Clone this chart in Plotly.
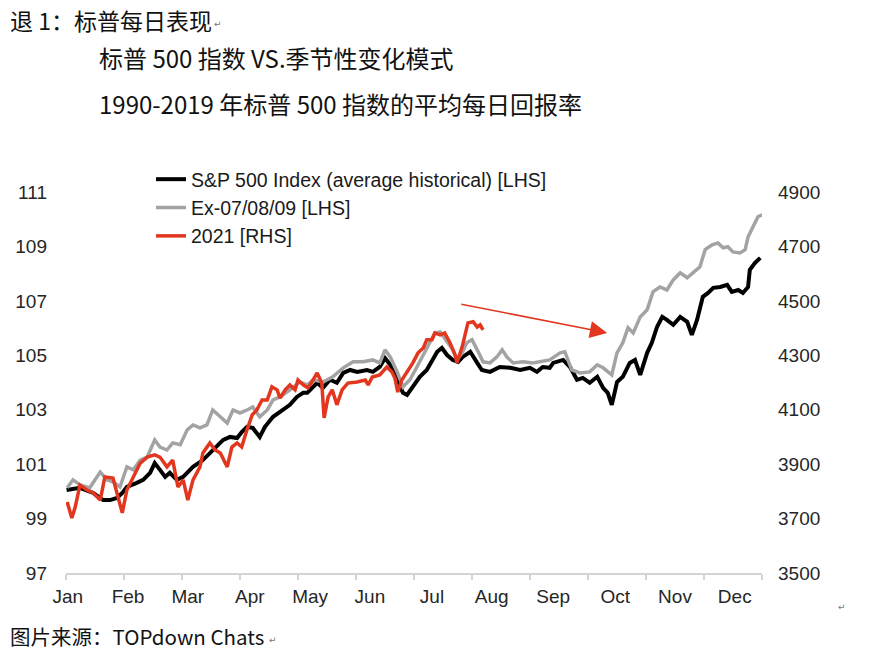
import plotly.graph_objects as go

# ---------------- data (x = months since Jan 1, y = index level) ----------------
months = ["Jan", "Feb", "Mar", "Apr", "May", "Jun", "Jul", "Aug", "Sep", "Oct", "Nov", "Dec"]
month_bounds = list(range(13))
month_label_pos = [0.03, 1.07, 2.10, 3.17, 4.21, 5.24, 6.31, 7.34, 8.40, 9.47, 10.50, 11.53]

lhs_ticks = [97, 99, 101, 103, 105, 107, 109, 111]
rhs_ticks = [3500, 3700, 3900, 4100, 4300, 4500, 4700, 4900]

avg_x = [0.01, 0.24, 0.47, 0.64, 0.76, 0.88, 0.97, 1.05, 1.22, 1.33,
         1.45, 1.53, 1.62, 1.71, 1.79, 1.91, 2.02, 2.19, 2.36, 2.48,
         2.60, 2.71, 2.83, 2.95, 3.03, 3.12, 3.22, 3.34, 3.43, 3.57,
         3.69, 3.86, 3.98, 4.09,
         4.16, 4.33, 4.43, 4.55, 4.67, 4.78, 4.90, 5.02, 5.19, 5.29,
         5.41, 5.50, 5.59, 5.71, 5.81, 5.88, 5.98, 6.10, 6.22, 6.31,
         6.40, 6.48, 6.57, 6.67, 6.76, 6.84, 6.97, 7.09, 7.17, 7.31,
         7.48, 7.66, 7.83, 8.00, 8.12, 8.22, 8.34,
         8.40, 8.57, 8.69, 8.81, 8.91, 9.03, 9.16, 9.26, 9.34, 9.41,
         9.47, 9.50, 9.60, 9.72, 9.81, 9.90, 10.02, 10.10, 10.19, 10.28,
         10.36, 10.47, 10.59, 10.71, 10.79, 10.88, 10.98, 11.07, 11.16, 11.28,
         11.40, 11.48, 11.59, 11.67, 11.76, 11.79, 11.88, 11.97]
avg_y = [100.05, 100.13, 99.94, 99.68, 99.68, 99.76, 99.94, 100.16, 100.31, 100.42,
         100.68, 101.04, 100.79, 100.53, 100.68, 100.42, 100.53, 100.90, 101.15, 101.41,
         101.63, 101.89, 102.00, 101.96, 102.18, 102.37, 102.33, 102.00, 102.37, 102.74,
         102.92, 103.18, 103.47, 103.62,
         103.62, 103.99, 103.80, 104.10, 103.99, 104.35, 104.46, 104.39, 104.46, 104.39,
         104.57, 104.90, 104.65, 104.10, 103.62, 103.54, 103.84, 104.21, 104.46, 104.83,
         105.13, 105.27, 105.01, 104.83, 104.76, 104.94, 105.13, 104.72, 104.46, 104.39,
         104.57, 104.54, 104.46, 104.54, 104.39, 104.57, 104.54,
         104.72, 104.83, 104.57, 104.10, 104.17, 103.99, 104.21, 103.80, 103.62, 103.18,
         103.73, 104.02, 104.21, 104.72, 104.83, 104.28, 105.09, 105.46, 106.04, 106.41,
         106.30, 106.12, 106.41, 106.23, 105.75, 106.30, 107.15, 107.29, 107.48, 107.51,
         107.59, 107.33, 107.40, 107.29, 107.51, 108.14, 108.40, 108.58]

ex_x = [0.02, 0.12, 0.24, 0.41, 0.59, 0.71, 0.81, 0.93, 1.05, 1.16,
        1.28, 1.40, 1.53, 1.62, 1.74, 1.84, 1.97, 2.09, 2.19, 2.31,
        2.43, 2.53, 2.66, 2.78, 2.88, 3.00, 3.12, 3.22, 3.34, 3.47,
        3.57, 3.69, 3.86, 4.03, 4.16,
        4.26, 4.43, 4.60, 4.78, 4.95, 5.12, 5.29, 5.41, 5.50, 5.59,
        5.71, 5.81, 5.93, 6.05, 6.16, 6.28, 6.36, 6.45, 6.57, 6.67,
        6.74, 6.83, 6.91, 7.00, 7.09, 7.19, 7.31, 7.43, 7.52, 7.60,
        7.71, 7.88, 8.05, 8.17, 8.29,
        8.34, 8.52, 8.60, 8.72, 8.86, 9.03, 9.16, 9.26, 9.41, 9.50,
        9.60, 9.69, 9.78, 9.90, 10.02, 10.12, 10.24, 10.36, 10.47, 10.59,
        10.71, 10.81, 10.93, 11.02, 11.14, 11.24, 11.33, 11.41, 11.50, 11.62,
        11.71, 11.76, 11.84, 11.93, 12.00]
ex_y = [100.13, 100.42, 100.24, 100.13, 100.71, 100.42, 100.35, 100.16, 100.90, 100.79,
        101.15, 101.26, 101.89, 101.63, 101.52, 101.78, 101.71, 102.26, 102.44, 102.33,
        102.44, 102.99, 102.74, 102.51, 102.99, 102.88, 102.99, 103.10, 102.74, 102.99,
        103.36, 103.47, 103.73, 104.02, 103.91,
        104.10, 104.02, 104.21, 104.54, 104.76, 104.76, 104.83, 104.72, 105.20, 104.94,
        104.39, 103.84, 104.10, 104.57, 105.01, 105.46, 105.82, 105.86, 105.49, 105.20,
        104.83, 105.09, 105.46, 105.57, 105.20, 104.76, 104.72, 104.94, 105.20, 104.94,
        104.72, 104.76, 104.72, 104.76, 104.83,
        104.83, 105.09, 105.13, 104.46, 104.35, 104.39, 104.65, 104.54, 104.28, 105.09,
        105.46, 106.01, 105.82, 106.41, 106.67, 107.33, 107.51, 107.40, 107.77, 108.03,
        107.85, 108.03, 108.25, 108.88, 109.06, 109.13, 108.95, 108.99, 108.80, 108.76,
        108.88, 109.35, 109.72, 110.09, 110.16]

y2021_x = [0.02, 0.10, 0.16, 0.24, 0.36, 0.47, 0.59, 0.67, 0.81, 0.90,
           0.97, 1.05, 1.16, 1.28, 1.40, 1.53, 1.62, 1.74, 1.84, 1.93,
           2.02, 2.10, 2.19, 2.31, 2.36, 2.48, 2.57, 2.66, 2.78, 2.86,
           2.95, 3.03, 3.12, 3.21, 3.29, 3.38, 3.47, 3.55, 3.64, 3.69,
           3.78, 3.86, 3.95, 4.00, 4.09, 4.17,
           4.24, 4.33, 4.41, 4.45, 4.52, 4.59, 4.67, 4.76, 4.86, 5.02,
           5.16, 5.21, 5.28, 5.41, 5.53, 5.62, 5.67, 5.72, 5.79, 5.88,
           5.98, 6.07, 6.16, 6.22, 6.31, 6.36, 6.45, 6.53, 6.62, 6.71,
           6.74, 6.83, 6.88, 6.93, 7.02, 7.09, 7.14, 7.19]
y2021_y = [3761, 3702, 3743, 3823, 3805, 3794, 3768, 3853, 3849, 3779,
           3721, 3805, 3853, 3904, 3926, 3934, 3926, 3890, 3915, 3816,
           3842, 3768, 3842, 3890, 3941, 3978, 3952, 3941, 3890, 3963,
           3978, 3963, 4026, 4081, 4099, 4136, 4136, 4184, 4173, 4143,
           4173, 4191, 4173, 4209, 4191, 4180,
           4202, 4235, 4198, 4070, 4147, 4173, 4118, 4173, 4198, 4202,
           4209, 4191, 4220, 4228, 4257, 4239, 4217, 4165, 4209, 4239,
           4272, 4309, 4327, 4357, 4357, 4382, 4375, 4382, 4346, 4301,
           4272, 4331, 4382, 4419, 4423, 4404, 4412, 4393]

arrow_from = (6.79, 106.89)   # (month, LHS level)
arrow_to = (9.33, 105.82)

# ---------------- figure ----------------
W, H = 872, 654
ML, MR, MT, MB = 66, 110, 192, 81
PW, PH = W - ML - MR, H - MT - MB


def px(xp):
    return (xp - ML) / PW


def py(yp):
    return (H - MB - yp) / PH


TICK_FONT = dict(family="Liberation Sans, Arial, sans-serif", size=19, color="#262626")
CJK = "Noto Sans CJK SC"
RED = "#e2361e"

fig = go.Figure()
fig.add_trace(go.Scatter(x=avg_x, y=avg_y, mode="lines", name="S&P 500 Index (average historical) [LHS]",
                         line=dict(color="#000000", width=4)))
fig.add_trace(go.Scatter(x=ex_x, y=ex_y, mode="lines", name="Ex-07/08/09 [LHS]",
                         line=dict(color="#a3a3a3", width=3.5)))
fig.add_trace(go.Scatter(x=y2021_x, y=y2021_y, mode="lines", name="2021 [RHS]", yaxis="y2",
                         line=dict(color=RED, width=3.5)))

fig.update_layout(
    width=W, height=H,
    margin=dict(l=ML, r=MR, t=MT, b=MB),
    paper_bgcolor="white", plot_bgcolor="white",
    showlegend=True,
    legend=dict(x=px(151), y=py(160), xanchor="left", yanchor="top",
                font=dict(family="Liberation Sans, Arial, sans-serif", size=19.5, color="#1a1a1a"),
                bgcolor="rgba(0,0,0,0)", tracegroupgap=0, itemwidth=30),
    xaxis=dict(range=[0, 12], showgrid=False, zeroline=False,
               showline=True, linecolor="#d4d4d4", linewidth=1.5,
               tickmode="array", tickvals=month_label_pos, ticktext=months,
               ticks="", tickfont=TICK_FONT, ticklabelstandoff=5,
               minor=dict(tickmode="array", tickvals=month_bounds, ticks="outside",
                          ticklen=5, tickcolor="#d4d4d4", tickwidth=1.5, showgrid=False)),
    yaxis=dict(range=[97, 111], tickmode="array", tickvals=lhs_ticks, showgrid=False,
               zeroline=False, showline=False, ticks="", tickfont=TICK_FONT,
               ticklabelstandoff=18),
    yaxis2=dict(range=[3500, 4900], tickmode="array", tickvals=rhs_ticks, overlaying="y",
                side="right", showgrid=False, zeroline=False, showline=False, ticks="",
                tickfont=TICK_FONT, ticklabelstandoff=15),
)

# red arrow annotation
fig.add_annotation(x=arrow_to[0], y=arrow_to[1], ax=arrow_from[0], ay=arrow_from[1],
                   xref="x", yref="y", axref="x", ayref="y", text="", showarrow=True,
                   arrowhead=2, arrowsize=2.3, arrowwidth=1.5, arrowcolor=RED)

# titles and notes
texts = [
    ("退 1：标普每日表现", 8, 20, 23, "#111111"),
    ("标普 500 指数 VS.季节性变化模式", 97, 57, 24, "#111111"),
    ("1990-2019 年标普 500 指数的平均每日回报率", 97, 103, 24, "#111111"),
    ("图片来源：TOPdown Chats", 8, 636, 20.5, "#111111"),
]
for t, xl, yc, sz, col in texts:
    fig.add_annotation(text=t, xref="paper", yref="paper", x=px(xl), y=py(yc),
                       xanchor="left", yanchor="middle", showarrow=False,
                       font=dict(family=CJK, size=sz, color=col))

for xl, yc in [(212, 24), (836, 607), (267, 640)]:
    fig.add_annotation(text="↵", xref="paper", yref="paper", x=px(xl), y=py(yc),
                       xanchor="left", yanchor="middle", showarrow=False,
                       font=dict(family="DejaVu Sans", size=9, color="#777777"))

fig.write_html("out.html")
